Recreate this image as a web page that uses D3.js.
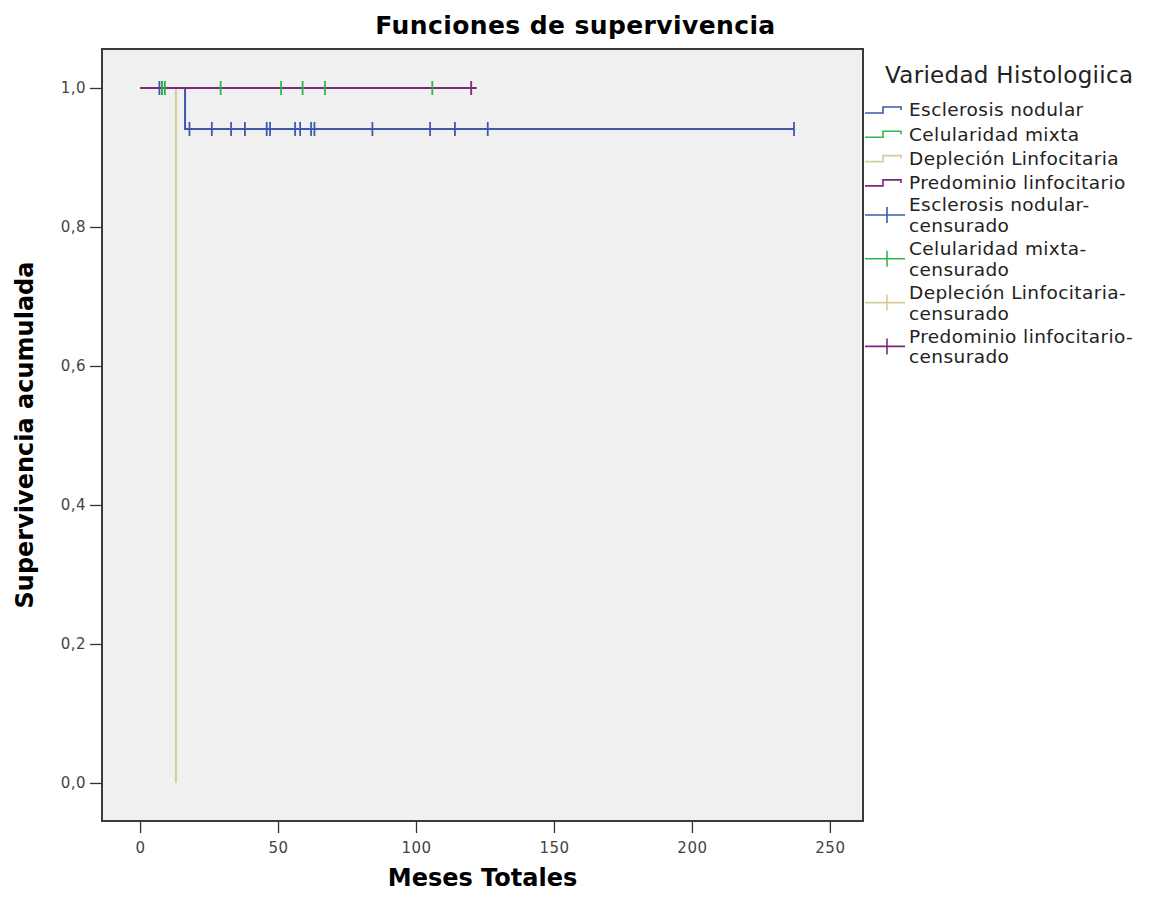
<!DOCTYPE html>
<html>
<head>
<meta charset="utf-8">
<script src="https://cdn.jsdelivr.net/npm/d3@7"></script>
<style>
  body { margin: 0; background: #fff; }
  text { font-family: "DejaVu Sans", sans-serif; }
</style>
</head>
<body>
<div id="container"></div>
<script>
// CONSTANTS ###############################
const width = 1151,
  height = 905,
  frame = { left: 102, top: 49, right: 863, bottom: 821 };

// DATA ####################################
const groups = ["Esclerosis nodular", "Celularidad mixta", "Depleción Linfocitaria", "Predominio linfocitario"];
const groupColors = ["#3e58ac", "#2eb848", "#d3ce97", "#7c287d"];

// survival steps [months, cumulative survival]
const esclerosisCurve = [[0, 1], [16.3, 0.941], [237, 0.941]];
const celularidadCurve = [[0, 1], [106, 1]];
const deplecionCurve = [[0, 1], [13, 0]];
const predominioCurve = [[0, 1], [122, 1]];

// censored cases [months, cumulative survival]
const esclerosisCensored = [[7, 1], [8, 1], [17.9, 0.941], [26, 0.941], [33, 0.941], [38, 0.941],
  [45.9, 0.941], [47.1, 0.941], [56.2, 0.941], [58, 0.941], [62, 0.941], [63.2, 0.941],
  [84.2, 0.941], [105.1, 0.941], [114.1, 0.941], [126, 0.941], [237, 0.941]];
const celularidadCensored = [[8, 1], [9, 1], [29.2, 1], [51.1, 1], [58.9, 1], [67, 1], [105.9, 1]];
const deplecionCensored = [];
const predominioCensored = [[120, 1]];

const xTicks = [0, 50, 100, 150, 200, 250];
const yTicks = [0, 0.2, 0.4, 0.6, 0.8, 1.0];

const curves = [esclerosisCurve, celularidadCurve, deplecionCurve, predominioCurve];
const censored = [esclerosisCensored, celularidadCensored, deplecionCensored, predominioCensored];

// SCALES ##################################
const xScale = d3.scaleLinear()
  .domain([-13.8, 262])
  .range([frame.left, frame.right]);

const yScale = d3.scaleLinear()
  .domain([-0.0547, 1.0561])
  .range([frame.bottom, frame.top]);

const fmt = d => d3.format(".1f")(d).replace(".", ",");

// DRAW ####################################
const svg = d3.select("#container")
  .append("svg")
  .attr("width", width)
  .attr("height", height);

// plot background
svg.append("rect")
  .attr("x", frame.left)
  .attr("y", frame.top)
  .attr("width", frame.right - frame.left)
  .attr("height", frame.bottom - frame.top)
  .attr("fill", "#f0f0f0");

// axes
const yAxis = svg.append("g")
  .attr("transform", `translate(${frame.left},0)`)
  .call(d3.axisLeft(yScale).tickValues(yTicks).tickFormat(fmt).tickSize(12).tickPadding(4));

const xAxis = svg.append("g")
  .attr("transform", `translate(0,${frame.bottom})`)
  .call(d3.axisBottom(xScale).tickValues(xTicks).tickSize(12).tickPadding(9));

[yAxis, xAxis].forEach(ax => {
  ax.select(".domain").remove();
  ax.selectAll(".tick line").attr("stroke", "#333").attr("stroke-width", 1.3);
  ax.selectAll(".tick text")
    .attr("fill", "#444")
    .style("font-size", "15px")
    .style("letter-spacing", "0.5px")
    .style("font-family", "DejaVu Sans");
});

// curves
const line = d3.line()
  .x(d => xScale(d[0]))
  .y(d => yScale(d[1]))
  .curve(d3.curveStepAfter);

svg.selectAll("path.curve")
  .data(curves)
  .join("path")
  .attr("class", "curve")
  .attr("d", line)
  .attr("fill", "none")
  .attr("stroke", (d, i) => groupColors[i])
  .attr("stroke-width", 2);

// censor marks
censored.forEach((marks, i) => {
  svg.selectAll(`line.cens${i}`)
    .data(marks)
    .join("line")
    .attr("class", `cens${i}`)
    .attr("x1", d => xScale(d[0]))
    .attr("x2", d => xScale(d[0]))
    .attr("y1", d => yScale(d[1]) - 7)
    .attr("y2", d => yScale(d[1]) + 7)
    .attr("stroke", groupColors[i])
    .attr("stroke-width", 1.8);
});

// frame border on top
svg.append("rect")
  .attr("x", frame.left)
  .attr("y", frame.top)
  .attr("width", frame.right - frame.left)
  .attr("height", frame.bottom - frame.top)
  .attr("fill", "none")
  .attr("stroke", "#3a3a3a")
  .attr("stroke-width", 2);

// titles
svg.append("text")
  .attr("x", width / 2)
  .attr("y", 34)
  .attr("text-anchor", "middle")
  .style("font-size", "25px")
  .style("letter-spacing", "0.4px")
  .style("font-weight", "bold")
  .text("Funciones de supervivencia");

svg.append("text")
  .attr("x", (frame.left + frame.right) / 2)
  .attr("y", 886)
  .attr("text-anchor", "middle")
  .style("font-size", "24px")
  .style("font-weight", "bold")
  .text("Meses Totales");

svg.append("text")
  .attr("transform", `translate(33,${(frame.top + frame.bottom) / 2}) rotate(-90)`)
  .attr("text-anchor", "middle")
  .style("font-size", "24px")
  .style("font-weight", "bold")
  .text("Supervivencia acumulada");

// LEGEND ##################################
const legend = svg.append("g");
const lx = 865, tx = 909;

legend.append("text")
  .attr("x", 885)
  .attr("y", 83)
  .style("font-size", "23px")
  .style("letter-spacing", "0.3px")
  .attr("fill", "#222")
  .text("Variedad Histologiica");

groups.forEach((g, i) => {
  const y = 110 + i * 24.3;
  legend.append("path")
    .attr("d", `M${lx},${y + 3}H${lx + 18}V${y - 3}H${lx + 36}V${y}`)
    .attr("fill", "none")
    .attr("stroke", groupColors[i])
    .attr("stroke-width", 1.6);
  legend.append("text")
    .attr("x", tx)
    .attr("y", y)
    .attr("dy", "0.35em")
    .style("font-size", "18.5px")
    .style("letter-spacing", "0.4px")
    .attr("fill", "#222")
    .text(g);
});

groups.forEach((g, i) => {
  const y = 205 + i * 43.8;
  const my = y + 10;
  legend.append("line")
    .attr("x1", lx).attr("x2", lx + 40)
    .attr("y1", my).attr("y2", my)
    .attr("stroke", groupColors[i])
    .attr("stroke-width", 1.6);
  legend.append("line")
    .attr("x1", lx + 22).attr("x2", lx + 22)
    .attr("y1", my - 8).attr("y2", my + 8)
    .attr("stroke", groupColors[i])
    .attr("stroke-width", 1.6);
  const t = legend.append("text")
    .attr("x", tx)
    .attr("y", y)
    .style("font-size", "18.5px")
    .style("letter-spacing", "0.4px")
    .attr("fill", "#222");
  t.append("tspan").attr("x", tx).attr("dy", "0.35em").text(g + "-");
  t.append("tspan").attr("x", tx).attr("dy", 20.5).text("censurado");
});
</script>
</body>
</html>
